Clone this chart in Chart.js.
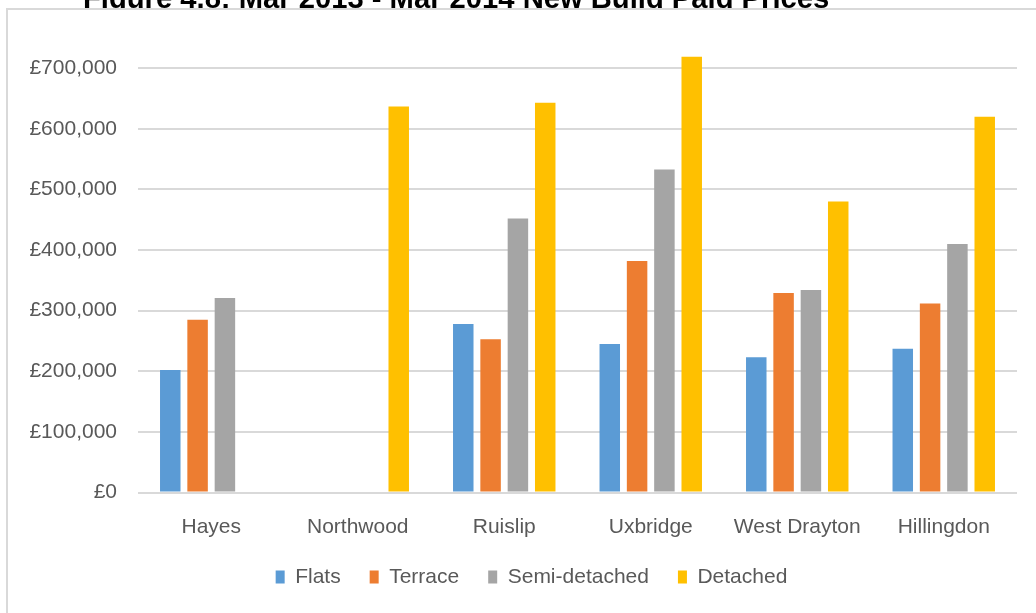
<!DOCTYPE html>
<html>
<head>
<meta charset="utf-8">
<script src="https://cdn.jsdelivr.net/npm/chart.js@4"></script>
<style>
  html, body { margin: 0; padding: 0; background: #fff; overflow: hidden; }
  #wrap { position: relative; width: 1036px; height: 613px; }
  #chart { position: absolute; left: 0; top: 0; }
  #titleBox { position: absolute; left: 0; top: 0; width: 1036px; height: 8px; overflow: hidden; }
  #title {
    position: absolute; left: 83px; top: -16px; white-space: nowrap;
    font: bold 22px "Liberation Sans", Arial, sans-serif; line-height: 1; color: #000;
  }
  #frame {
    position: absolute; left: 6px; top: 8px; width: 1100px; height: 700px;
    border-left: 2px solid #d9d9d9; border-top: 2px solid #d9d9d9; pointer-events: none;
  }
</style>
</head>
<body>
<div id="wrap">
  <canvas id="chart" width="1036" height="613"></canvas>
  <div id="titleBox"><span id="title">Figure 4.8: Mar 2013 - Mar 2014 New Build Paid Prices</span></div>
  <div id="frame"></div>
</div>
<script>
const areas = ["Hayes", "Northwood", "Ruislip", "Uxbridge", "West Drayton", "Hillingdon"];
const flats = [202000, null, 278000, 245000, 223000, 237000];
const terrace = [285000, null, 253000, 382000, 329000, 312000];
const semiDetached = [321000, null, 452000, 533000, 334000, 410000];
const detached = [null, 637000, 643000, 719000, 480000, 620000];
const yTicks = [0, 100000, 200000, 300000, 400000, 500000, 600000, 700000];

// stretch the cut-off title to the width seen in the picture
const title = document.getElementById("title");
let size = 22;
while (title.offsetWidth < 744 && size < 30) {
  size += 0.2;
  title.style.fontSize = size + "px";
}

const font = { family: "'Liberation Sans', Arial, sans-serif", size: 21 };
const grey = "#595959";

// legend sits a little right of the canvas centre in the original
let nudged = false;
const nudgeLegend = {
  id: "nudgeLegend",
  beforeDraw(chart) {
    if (nudged || !chart.legend) return;
    nudged = true;
    chart.legend.left += 23;
    chart.legend.right += 23;
  }
};

new Chart(document.getElementById("chart"), {
  type: "bar",
  data: {
    labels: areas,
    datasets: [
      { label: "Flats", data: flats, backgroundColor: "#5B9BD5" },
      { label: "Terrace", data: terrace, backgroundColor: "#ED7D31" },
      { label: "Semi-detached", data: semiDetached, backgroundColor: "#A5A5A5" },
      { label: "Detached", data: detached, backgroundColor: "#FFC000" }
    ]
  },
  options: {
    responsive: false,
    animation: false,
    layout: { padding: { left: 0, right: 19, top: 44, bottom: 15.5 } },
    datasets: { bar: { categoryPercentage: 0.746, barPercentage: 0.75 } },
    plugins: {
      tooltip: { enabled: false },
      legend: {
        position: "bottom",
        labels: { color: grey, font, boxWidth: 9, boxHeight: 13, padding: 29 }
      }
    },
    scales: {
      x: {
        grid: { display: false, drawTicks: false },
        border: { display: false },
        ticks: { color: grey, font, padding: 22, maxRotation: 0, autoSkip: false },
        afterFit: axis => { axis.height = 45; }
      },
      y: {
        min: 0,
        max: 740000,
        grid: { color: "#d9d9d9", lineWidth: 2, drawTicks: false },
        border: { display: false },
        ticks: {
          color: grey, font, padding: 21,
          callback: v => "£" + v.toLocaleString("en-GB")
        },
        afterBuildTicks: axis => { axis.ticks = yTicks.map(value => ({ value })); },
        afterFit: axis => { axis.width = 138; }
      }
    }
  },
  plugins: [nudgeLegend]
});
</script>
</body>
</html>
